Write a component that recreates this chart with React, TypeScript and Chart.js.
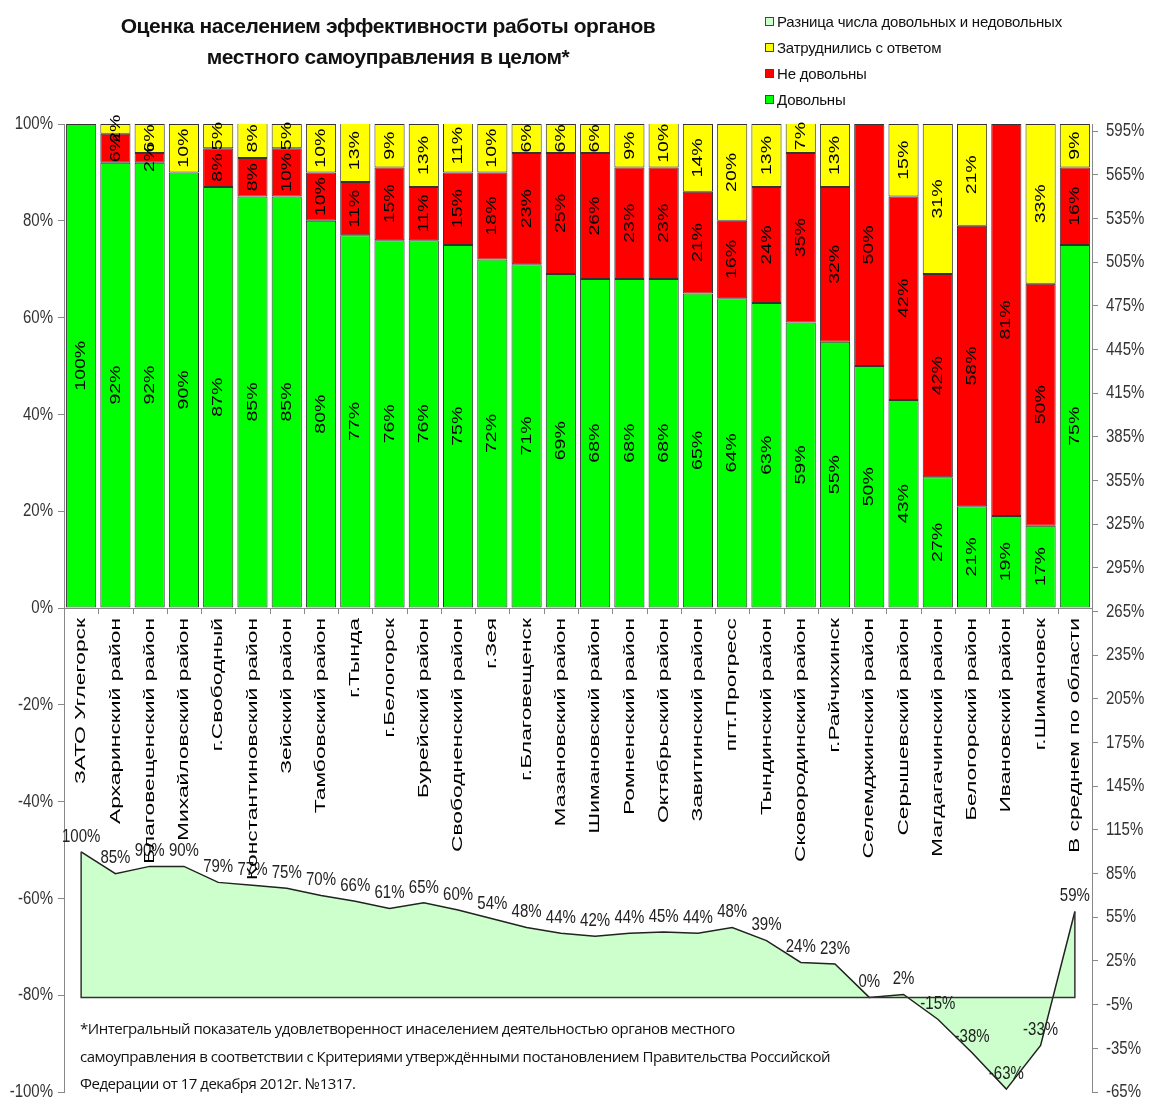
import React, { useEffect, useRef } from "react";
import { Chart, registerables } from "chart.js";
Chart.register(...registerables);

const categories = [
  "ЗАТО Углегорск", "Архаринский район", "Благовещенский район", "Михайловский район",
  "г.Свободный", "Константиновский район", "Зейский район", "Тамбовский район",
  "г.Тында", "г.Белогорск", "Бурейский район", "Свободненский район", "г.Зея",
  "г.Благовещенск", "Мазановский район", "Шимановский район", "Ромненский район",
  "Октябрьский район", "Завитинский район", "пгт.Прогресс", "Тындинский район",
  "Сковородинский район", "г.Райчихинск", "Селемджинский район", "Серышевский район",
  "Магдагачинский район", "Белогорский район", "Ивановский район", "г.Шимановск",
  "В среднем по области",
];
const satisfied = [100, 92, 92, 90, 87, 85, 85, 80, 77, 76, 76, 75, 72, 71, 69, 68, 68, 68, 65, 64, 63, 59, 55, 50, 43, 27, 21, 19, 17, 75];
const dissatisfied = [0, 6, 2, 0, 8, 8, 10, 10, 11, 15, 11, 15, 18, 23, 25, 26, 23, 23, 21, 16, 24, 35, 32, 50, 42, 42, 58, 81, 50, 16];
const undecided = [0, 2, 6, 10, 5, 8, 5, 10, 13, 9, 13, 11, 10, 6, 6, 6, 9, 10, 14, 20, 13, 7, 13, 0, 15, 31, 21, 0, 33, 9];
const difference = [100, 85, 90, 90, 79, 77, 75, 70, 66, 61, 65, 60, 54, 48, 44, 42, 44, 45, 44, 48, 39, 24, 23, 0, 2, -15, -38, -63, -33, 59];
const leftTicks = [-100, -80, -60, -40, -20, 0, 20, 40, 60, 80, 100];
const rightTicks = [-65, -35, -5, 25, 55, 85, 115, 145, 175, 205, 235, 265, 295, 325, 355, 385, 415, 445, 475, 505, 535, 565, 595];

const titleLines = ["Оценка населением эффективности работы органов", "местного самоуправления в целом*"];
const legendItems = [
  { label: "Разница числа довольных и недовольных", color: "#ccffcc" },
  { label: "Затруднились с ответом", color: "#ffff00" },
  { label: "Не довольны", color: "#ff0000" },
  { label: "Довольны", color: "#00ff00" },
];
const footnoteLines = [
  "*Интегральный показатель удовлетворенност инаселением деятельностью органов местного",
  "самоуправления в соответствии с Критериями утверждёнными постановлением Правительства Российской",
  "Федерации от 17 декабря 2012г. №1317.",
];

const W = 1153;
const H = 1102;
const FONT = "Liberation Sans, Arial, sans-serif";

function drawText(ctx: CanvasRenderingContext2D, text: string, x: number, y: number, angle: number,
  sx: number, sy: number, align: CanvasTextAlign, baseline: CanvasTextBaseline, font: string, color: string) {
  ctx.save();
  ctx.translate(x, y);
  ctx.rotate(angle);
  ctx.scale(sx, sy);
  ctx.font = font;
  ctx.fillStyle = color;
  ctx.textAlign = align;
  ctx.textBaseline = baseline;
  ctx.fillText(text, 0, 0);
  ctx.restore();
}

const overlayPlugin = {
  id: "overlay",
  afterDatasetsDraw(chart: any) {
    const ctx: CanvasRenderingContext2D = chart.ctx;
    const xs = chart.scales.x;
    const ys = chart.scales.y;
    const y2 = chart.scales.y2;
    const area = chart.chartArea;

    // area outline (edges and baseline)
    const pts = chart.getDatasetMeta(3).data;
    const base = y2.getPixelForValue(0);
    ctx.save();
    ctx.strokeStyle = "#333";
    ctx.lineWidth = 1.5;
    ctx.beginPath();
    ctx.moveTo(pts[0].x, pts[0].y);
    ctx.lineTo(pts[0].x, base);
    ctx.lineTo(pts[pts.length - 1].x, base);
    ctx.lineTo(pts[pts.length - 1].x, pts[pts.length - 1].y);
    ctx.stroke();
    ctx.restore();

    // bar labels
    for (let d = 0; d < 3; d++) {
      const meta = chart.getDatasetMeta(d);
      const data = chart.data.datasets[d].data;
      meta.data.forEach((el: any, i: number) => {
        const v = data[i];
        if (!v) return;
        drawText(ctx, `${v}%`, el.x, (el.y + el.base) / 2, -Math.PI / 2, 1.3, 1, "center", "middle", `15px ${FONT}`, "#000");
      });
    }

    // line labels
    pts.forEach((p: any, i: number) => {
      drawText(ctx, `${difference[i]}%`, p.x, p.y - 6, 0, 1, 1.25, "center", "bottom", `15px ${FONT}`, "#222");
    });

    // zero line and category ticks / labels
    const y0 = ys.getPixelForValue(0);
    ctx.save();
    ctx.strokeStyle = "#888";
    ctx.lineWidth = 1;
    ctx.beginPath();
    ctx.moveTo(area.left, y0 + 0.5);
    ctx.lineTo(area.right, y0 + 0.5);
    const step = (area.right - area.left) / categories.length;
    for (let i = 0; i <= categories.length; i++) {
      const x = Math.round(area.left + i * step) + 0.5;
      ctx.moveTo(x, y0);
      ctx.lineTo(x, y0 + 6);
    }
    ctx.stroke();
    ctx.restore();
    categories.forEach((c, i) => {
      const x = xs.getPixelForValue(i);
      drawText(ctx, c, x, y0 + 10, -Math.PI / 2, 1.52, 1, "right", "middle", `15px ${FONT}`, "#000");
    });

    // axis tick labels
    leftTicks.forEach((v) => {
      drawText(ctx, `${v}%`, area.left - 11, ys.getPixelForValue(v), 0, 1, 1.25, "right", "middle", `15px ${FONT}`, "#333");
    });
    rightTicks.forEach((v) => {
      drawText(ctx, `${v}%`, area.right + 14, y2.getPixelForValue(v), 0, 1, 1.25, "left", "middle", `15px ${FONT}`, "#333");
    });
  },
};

export default function App() {
  const ref = useRef<HTMLCanvasElement>(null);
  useEffect(() => {
    document.body.style.margin = "0";
    const chart = new Chart(ref.current as HTMLCanvasElement, {
      type: "bar",
      data: {
        labels: categories,
        datasets: [
          { label: "Довольны", data: satisfied, backgroundColor: "#00ff00", borderColor: "#333", borderWidth: 1, borderSkipped: false, stack: "bars", barPercentage: 0.88, categoryPercentage: 1, yAxisID: "y" },
          { label: "Не довольны", data: dissatisfied, backgroundColor: "#ff0000", borderColor: "#333", borderWidth: 1, borderSkipped: false, stack: "bars", barPercentage: 0.88, categoryPercentage: 1, yAxisID: "y" },
          { label: "Затруднились с ответом", data: undecided, backgroundColor: "#ffff00", borderColor: "#333", borderWidth: 1, borderSkipped: false, stack: "bars", barPercentage: 0.88, categoryPercentage: 1, yAxisID: "y" },
          { type: "line", label: "Разница числа довольных и недовольных", data: difference, yAxisID: "y2", stack: "line", fill: "origin", backgroundColor: "#ccffcc", borderColor: "#222", borderWidth: 1.5, pointRadius: 0, tension: 0 } as any,
        ],
      },
      options: {
        responsive: false,
        animation: false,
        devicePixelRatio: 1,
        layout: { padding: { top: 124, bottom: 10, left: 0, right: 0 } },
        plugins: { legend: { display: false }, tooltip: { enabled: false }, title: { display: false } },
        scales: {
          x: { type: "category", stacked: true, display: false, offset: true },
          y: {
            position: "left", stacked: true, min: -100, max: 100,
            ticks: { stepSize: 20, display: false },
            grid: { drawOnChartArea: false, drawTicks: true, tickLength: 6, color: "#888" },
            border: { display: true, color: "#888" },
            afterFit: (s: any) => { s.width = 64; },
          },
          y2: {
            position: "right", stacked: false, min: -65, max: 600,
            ticks: { display: false },
            afterBuildTicks: (s: any) => { s.ticks = rightTicks.map((v) => ({ value: v })); },
            grid: { drawOnChartArea: false, drawTicks: true, tickLength: 6, color: "#888" },
            border: { display: true, color: "#888" },
            afterFit: (s: any) => { s.width = 61; },
          },
        },
      } as any,
      plugins: [overlayPlugin],
    });
    return () => chart.destroy();
  }, []);

  return (
    <div style={{ position: "relative", width: W, height: H, background: "#fff" }}>
      <canvas ref={ref} width={W} height={H} style={{ position: "absolute", left: 0, top: 0 }} />
      <div style={{ position: "absolute", left: 88, width: 600, top: 10, textAlign: "center", fontFamily: FONT, fontWeight: "bold", fontSize: 21, lineHeight: "31px", color: "#111", letterSpacing: -0.4 }}>
        {titleLines.map((t, i) => <div key={i}>{t}</div>)}
      </div>
      <div style={{ position: "absolute", left: 765, top: 8, fontFamily: FONT, fontSize: 15, color: "#111" }}>
        {legendItems.map((it, i) => (
          <div key={i} style={{ display: "flex", alignItems: "center", height: 26 }}>
            <span style={{ display: "inline-block", width: 7, height: 7, background: it.color, border: "1px solid #444", marginRight: 3 }} />
            <span style={{ letterSpacing: -0.2 }}>{it.label}</span>
          </div>
        ))}
      </div>
      <div style={{ position: "absolute", left: 80, top: 1015, fontFamily: "Open Sans, sans-serif", fontSize: 15, lineHeight: "27.5px", color: "#111", letterSpacing: -0.5, whiteSpace: "nowrap" }}>
        {footnoteLines.map((t, i) => <div key={i}>{t}</div>)}
      </div>
    </div>
  );
}
